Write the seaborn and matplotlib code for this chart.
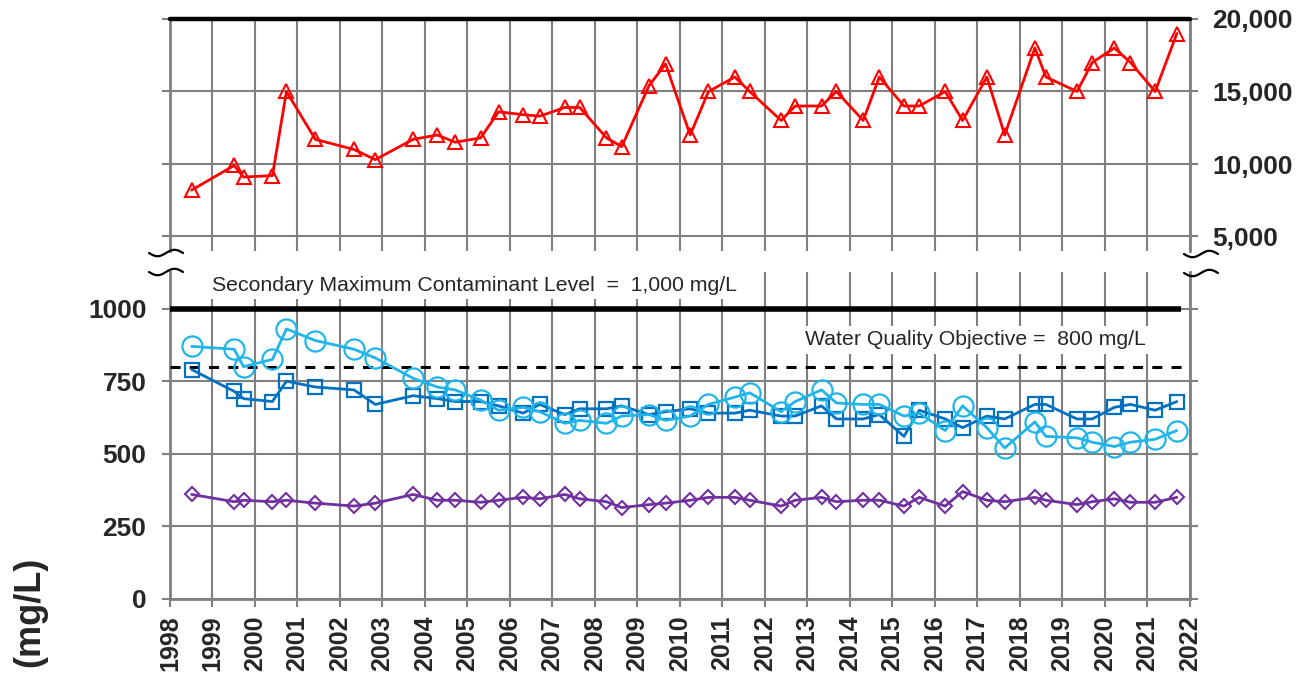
import numpy as np
import pandas as pd
import matplotlib
matplotlib.use("Agg")
import matplotlib.pyplot as plt
from matplotlib.lines import Line2D
import seaborn as sns

# Sampling dates (decimal years) shared by all four wells
dates = [1998.51, 1999.51, 1999.73, 2000.41, 2000.74, 2001.42, 2002.33, 2002.83,
         2003.72, 2004.29, 2004.71, 2005.31, 2005.73, 2006.31, 2006.70, 2007.29,
         2007.64, 2008.27, 2008.63, 2009.27, 2009.66, 2010.24, 2010.67, 2011.29,
         2011.64, 2012.38, 2012.71, 2013.33, 2013.68, 2014.31, 2014.69, 2015.27,
         2015.63, 2016.24, 2016.65, 2017.22, 2017.64, 2018.35, 2018.61, 2019.34,
         2019.70, 2020.22, 2020.60, 2021.18, 2021.69]

# TDS concentrations (mg/L)
tds_high = [8200, 9900, 9100, 9200, 15000, 11700, 11000, 10300, 11700, 12000,
            11500, 11800, 13600, 13400, 13300, 13900, 13900, 11800, 11200, 15400,
            16900, 12000, 15000, 16000, 15000, 13000, 14000, 14000, 15000, 13000,
            16000, 14000, 14000, 15000, 13000, 16000, 12000, 18000, 16000, 15000,
            17000, 18000, 17000, 15000, 19000]
tds_circle = [870, 860, 800, 825, 930, 890, 860, 830, 760, 730, 720, 685, 650,
              660, 645, 605, 615, 605, 630, 635, 615, 630, 670, 695, 710, 645,
              680, 720, 675, 670, 670, 630, 640, 580, 665, 590, 520, 610, 560,
              555, 540, 525, 540, 550, 580]
tds_square = [790, 715, 690, 680, 750, 730, 720, 670, 700, 690, 680, 680, 665,
              640, 670, 635, 655, 655, 665, 635, 645, 655, 640, 640, 650, 630,
              630, 665, 620, 620, 635, 560, 650, 620, 590, 630, 620, 670, 670,
              620, 620, 660, 670, 650, 680]
tds_diamond = [360, 335, 340, 335, 340, 330, 320, 330, 360, 340, 340, 333, 340,
               350, 345, 360, 345, 335, 315, 325, 330, 340, 350, 350, 340, 320,
               340, 350, 335, 340, 340, 320, 350, 320, 370, 340, 335, 350, 340,
               325, 335, 345, 333, 333, 350]

years = list(range(1998, 2023))
top_ticks = [5000, 10000, 15000, 20000]
top_labels = ["5,000", "10,000", "15,000", "20,000"]
low_ticks = [0, 250, 500, 750, 1000]
low_labels = ["0", "250", "500", "750", "1000"]
smcl = 1000
wqo = 800

sns.set_style("white")
plt.rcParams["font.family"] = ["Liberation Sans", "DejaVu Sans"]

W, H = 1314, 678
fig = plt.figure(figsize=(W / 100, H / 100), dpi=100)

def px_box(x0, y0, x1, y1):
    return [x0 / W, 1 - y1 / H, (x1 - x0) / W, (y1 - y0) / H]

ax_top = fig.add_axes(px_box(170, 19, 1190, 251))
ax_low = fig.add_axes(px_box(170, 272, 1190, 599))

GRID = "#808080"
for ax in (ax_top, ax_low):
    ax.set_xlim(1998, 2022)
    ax.set_xticks(years)
    ax.set_axisbelow(True)
    ax.grid(True, color=GRID, lw=1.5)
    for s in ("left", "right"):
        ax.spines[s].set_color(GRID)
        ax.spines[s].set_linewidth(2)
    ax.spines["top"].set_visible(False)
    ax.tick_params(axis="y", which="both", direction="out", length=6, width=1.5,
                   color=GRID, left=True, right=True)

# Upper panel: high-TDS well
ax_top.set_ylim(4000, 20000)
ax_top.spines["bottom"].set_visible(False)
ax_top.set_yticks(top_ticks)
ax_top.set_yticklabels(top_labels, fontsize=19, fontweight="bold")
ax_top.tick_params(axis="y", labelleft=False, labelright=True, pad=10)
ax_top.tick_params(axis="x", bottom=False, labelbottom=False)
ax_top.axhline(20000, color="black", lw=3.2, zorder=4, clip_on=False)

sns.lineplot(x=dates, y=tds_high, ax=ax_top, color="#FF0000", lw=2,
             marker="^", markersize=10, markerfacecolor="none",
             markeredgecolor="#FF0000", markeredgewidth=1.5, zorder=5)

# Lower panel
ax_low.set_ylim(0, 1126)
ax_low.spines["bottom"].set_color(GRID)
ax_low.spines["bottom"].set_linewidth(2)
ax_low.set_yticks(low_ticks)
ax_low.set_yticklabels(low_labels, fontsize=19, fontweight="bold")
ax_low.tick_params(axis="y", labelleft=True, labelright=False, pad=11)
ax_low.tick_params(axis="x", direction="out", length=6, width=1.5, color=GRID,
                   bottom=True, pad=6)
ax_low.set_xticklabels([str(y) for y in years], rotation=90, fontsize=18,
                       fontweight="bold")

ax_low.hlines(smcl, 1998, 2021.8, color="black", lw=4, zorder=4)
ax_low.axhline(wqo, color="black", lw=2.2, ls=(0, (3.3, 3.0)), zorder=4)

series = [
    (tds_diamond, "#7030A0", "D", 7.5, 1.5),
    (tds_square, "#0070C0", "s", 10, 1.6),
    (tds_circle, "#1FB4EA", "o", 14.5, 1.6),
]
for vals, col, mk, ms, mew in series:
    sns.lineplot(x=dates, y=vals, ax=ax_low, color=col, lw=2,
                 marker=mk, markersize=ms, markerfacecolor="none",
                 markeredgecolor=col, markeredgewidth=mew, zorder=5)

box = dict(boxstyle="square,pad=0.22", fc="white", ec="none")
ax_low.text(1999.0, 1081, "Secondary Maximum Contaminant Level  =  1,000 mg/L",
            fontsize=15.3, va="center", ha="left", bbox=box, zorder=3)
ax_low.text(2012.95, 892, "Water Quality Objective =  800 mg/L",
            fontsize=15.3, va="center", ha="left", bbox=box, zorder=3)

for ax in (ax_top, ax_low):
    leg = ax.get_legend()
    if leg is not None:
        leg.remove()

# Axis-break marks on both sides of the gap between panels
def squiggle(x0, y0):
    t = np.linspace(0, 1, 40)
    xs = x0 - 17 + 34 * t
    ys = y0 + 3.2 * np.sin(2 * np.pi * t)
    fig.add_artist(Line2D(xs / W, 1 - ys / H, color="black", lw=1.6,
                          transform=fig.transFigure))

for yb in (253, 272):
    squiggle(166, yb)
    squiggle(1201, yb + 1)

fig.text(30 / W, 1 - 612 / H, "(mg/L)", rotation=90, fontsize=26,
         fontweight="bold", ha="center", va="center")

fig.savefig("out.png", dpi=100)
